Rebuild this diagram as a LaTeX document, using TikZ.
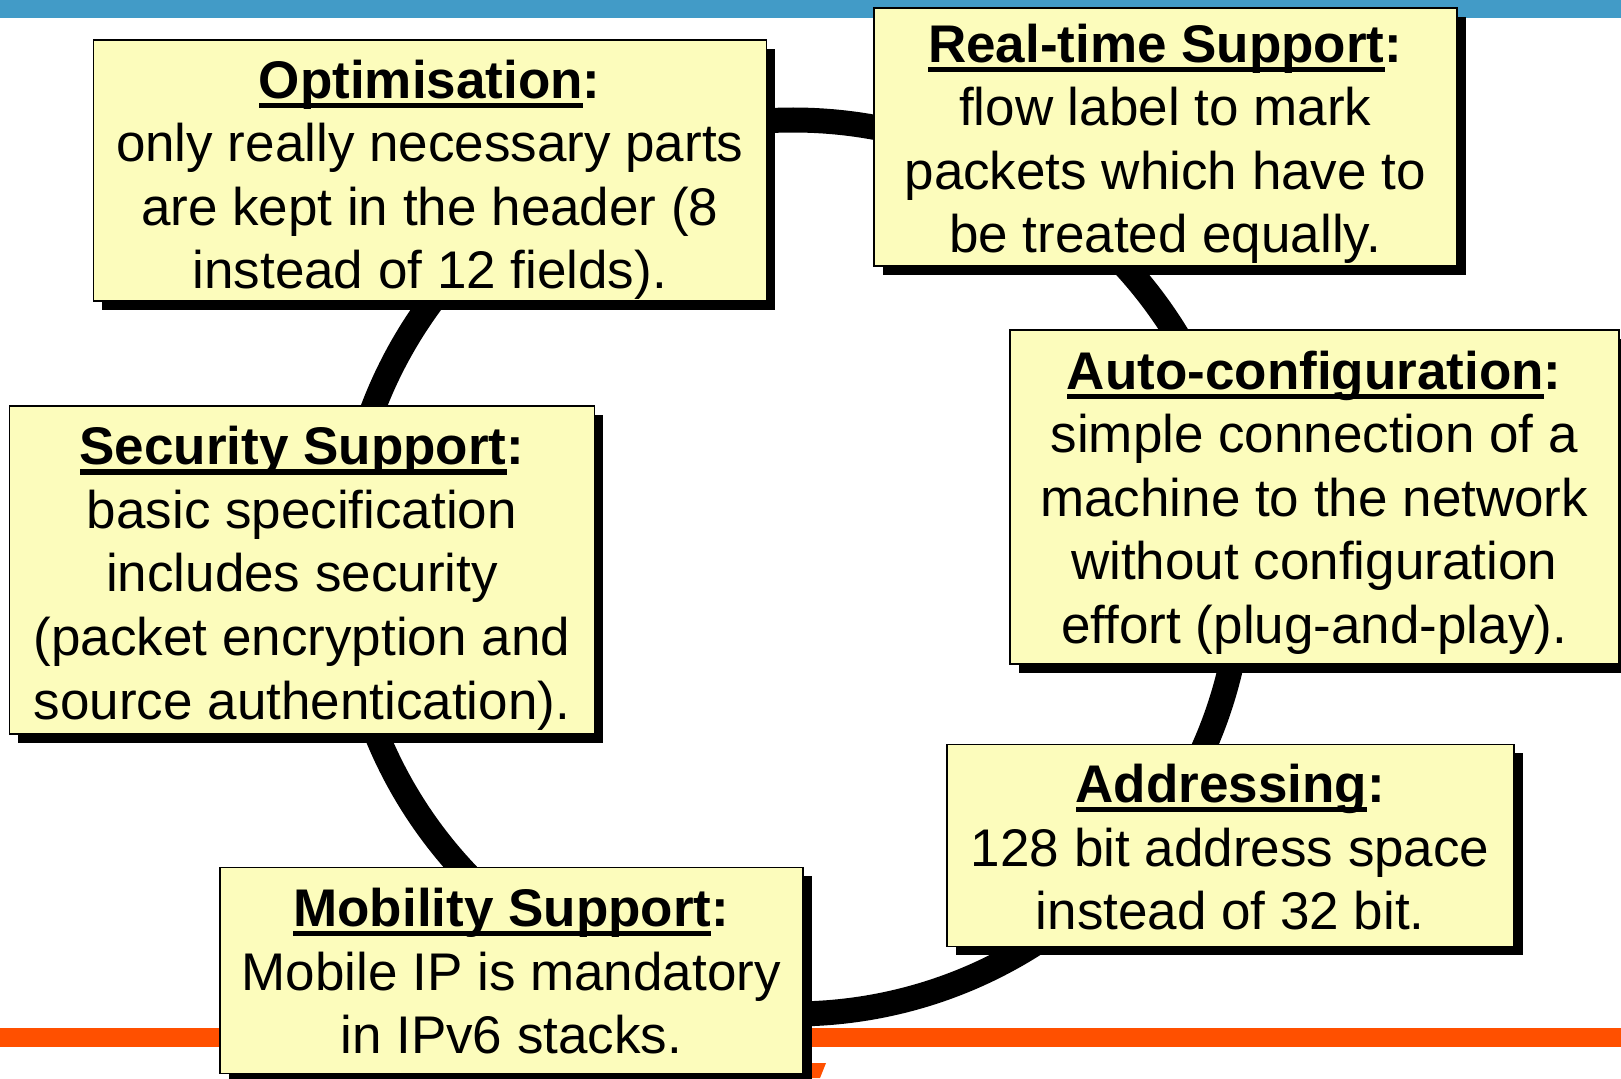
\documentclass[tikz,border=0pt]{standalone}
\usepackage{fontspec}
\setmainfont{Liberation Sans}
\usetikzlibrary{shadows}
\definecolor{barblue}{RGB}{66,155,199}
\definecolor{barorange}{RGB}{255,80,0}
\definecolor{notefill}{RGB}{252,252,188}
% bold heading, word underlined, colon not
\newcommand\hd[1]{\textbf{\setbox0=\hbox{#1}\rlap{\rule[-10pt]{\wd0}{5.5pt}}\box0:}}
% width, height, first baseline, text
\newcommand\notetext[4]{\parbox[c][#2pt][t]{#1pt}{\centering\fontsize{53}{63.6}\selectfont\rule{0pt}{#3pt}#4}}
\begin{document}
\begin{tikzpicture}[x=1pt,y=-1pt,
  note/.style={draw=black,line width=1.5pt,fill=notefill,inner sep=0pt,anchor=north west,
    drop shadow={shadow xshift=9pt,shadow yshift=-9pt,fill=black,opacity=1}}]
   \useasboundingbox (0,0) rectangle (1621,1078);
   \fill[color=barblue] (0,0) rectangle (1621,18);
   \fill[color=barorange] (0,1028) rectangle (1621,1047);
   \fill[color=barorange] (812,1063) -- (826,1063) -- (820,1078) -- (812,1078) -- cycle;

   \draw[line width=25pt] (793,567) ellipse [x radius=449, y radius=447];

   \node[note] (opt) at (92.5,39.3) {\notetext{673}{261}{58}{\hd{Optimisation}\\
     only really necessary parts\\are kept in the header (8\\instead of 12 fields).}};
   \node[note] (rt) at (873,7.3) {\notetext{583}{258}{54}{\hd{Real-time Support}\\
     flow label to mark\\packets which have to\\be treated equally.}};
   \node[note] (autocfg) at (1009,329.3) {\notetext{609}{334}{59}{\hd{Auto-configuration}\\
     simple connection of a\\machine to the network\\without configuration\\effort (plug-and-play).}};
   \node[note] (addr) at (946,743.7) {\notetext{567}{202}{58}{\hd{Addressing}\\
     128 bit address space\\instead of 32 bit.}};
   \node[note] (mob) at (219,866.7) {\notetext{583}{206}{59}{\hd{Mobility Support}\\
     Mobile IP is mandatory\\in IPv6 stacks.}};
   \node[note] (sec) at (8.7,405) {\notetext{585}{328}{59}{\hd{Security Support}\\
     basic specification\\includes security\\(packet encryption and\\source authentication).}};
 \end{tikzpicture}
\end{document}
